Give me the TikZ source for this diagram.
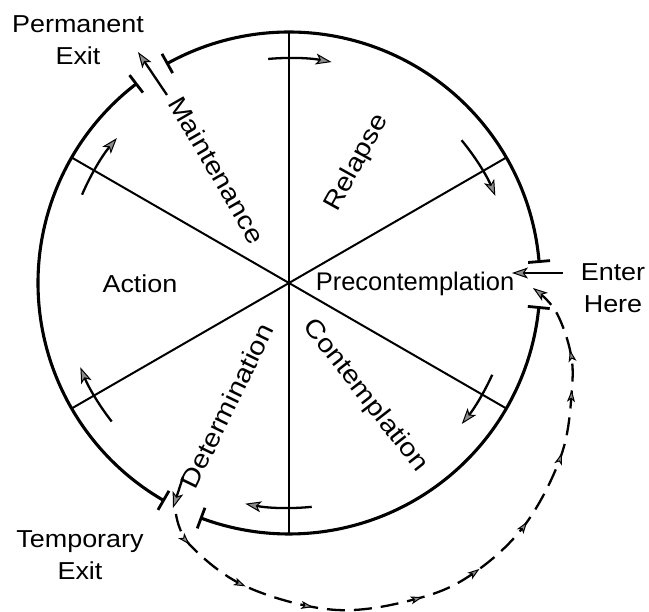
\documentclass[tikz,border=0pt]{standalone}
\usepackage{fontspec}
\setmainfont{Liberation Sans}
\newfontfamily\widelab[FakeStretch=1.1]{Liberation Sans}
\newfontfamily\rotlab[FakeStretch=1.13]{Liberation Sans}
\usetikzlibrary{arrows.meta,decorations.markings}
\tikzset{minitip/.tip={Stealth[length=12pt,width=8pt,inset=3pt,fill=black!45,line width=1pt]}}
\begin{document}
\begin{tikzpicture}[x=1pt,y=1pt,
  ring/.style={line width=3.1pt},
  spoke/.style={line width=2pt},
  tbar/.style={line width=2.8pt},
  cyc/.style={line width=2.3pt,-{Stealth[length=16pt,width=11pt,inset=4pt,fill=black!45,line width=1pt]}},
  lbl/.style={font=\widelab\fontsize{24.5}{32}\selectfont, inner sep=0pt, align=center},
  plbl/.style={font=\fontsize{25.5}{32}\selectfont, inner sep=0pt},
  rlbl/.style={font=\rotlab\fontsize{25.5}{32}\selectfont, inner sep=0pt},
  dashpath/.style={line width=2.3pt, dash pattern=on 18pt off 9pt,
    -{Stealth[length=15pt,width=10pt,inset=4pt,fill=black!45,line width=1pt]},
    postaction={decorate},
    decoration={markings,
      mark=at position 0.05 with {\arrow{minitip}},
      mark=at position 0.155 with {\arrow{minitip}},
      mark=at position 0.26 with {\arrow{minitip}},
      mark=at position 0.425 with {\arrow{minitip}},
      mark=at position 0.52 with {\arrow{minitip}},
      mark=at position 0.62 with {\arrow{minitip}},
      mark=at position 0.735 with {\arrow{minitip}},
      mark=at position 0.83 with {\arrow{minitip}},
      mark=at position 0.89 with {\arrow{minitip}}}}
]
\useasboundingbox (-289,-329) rectangle (360,283);
\coordinate (O) at (0,0);
% circle, three arcs with gaps
\draw[ring] (4.9:251) arc[start angle=4.9,end angle=119,radius=251];
\draw[ring] (127.5:251) arc[start angle=127.5,end angle=240,radius=251];
\draw[ring] (249.5:251) arc[start angle=249.5,end angle=354.4,radius=251];
% T-bars at the gaps
\foreach \a in {4.9,119,127.5,240,249.5,354.4}
  \draw[tbar] (\a:240) -- (\a:262);
% spokes
\foreach \a in {30,90,150,210,270,330}
  \draw[spoke] (O) -- (\a:251);
% cycle arrows (clockwise)
\draw[cyc] (95.3:225) arc[start angle=95.3,end angle=79.1,radius=225];
\draw[cyc] (39.6:224) arc[start angle=39.6,end angle=22.9,radius=224];
\draw[cyc] (-24.3:223) arc[start angle=-24.3,end angle=-39.2,radius=223];
\draw[cyc] (-84.2:225) arc[start angle=-84.2,end angle=-101.2,radius=225];
\draw[cyc] (218:225) arc[start angle=218,end angle=202,radius=225];
\draw[cyc] (156.9:225) arc[start angle=156.9,end angle=139.9,radius=225];
% stage labels
\node[rlbl, rotate=-60] (maint) at (-72,113) {Maintenance};
\node[rlbl, rotate=61] (relapse) at (68,120) {Relapse};
\node[plbl] (precon) at (126,-1) {Precontemplation};
\node[rlbl, rotate=-52] (contem) at (76,-113) {Contemplation};
\node[rlbl, rotate=64] (determ) at (-62,-123) {Determination};
\node[lbl] (action) at (-149,-1) {Action};
% outside labels
\node[lbl, anchor=north] (perm) at (-211,268) {Permanent\\Exit};
\node[lbl, anchor=north] (enter) at (324,20) {Enter\\Here};
\node[lbl, anchor=north] (temp) at (-209,-247) {Temporary\\Exit};
% exit / entry arrows
\coordinate (p1) at (-122,188); \coordinate (p2) at (-151,231);
\draw[cyc] (p1) -- (p2);
\coordinate (e1) at (274,10); \coordinate (e2) at (223,10);
\draw[cyc] (e1) -- (e2);
\coordinate (t1) at (-106,-194); \coordinate (t2) at (-116,-225);
\draw[cyc] (t1) -- (t2);
% recycling dashed path
\coordinate (d0) at (-113,-231);
\coordinate (d12) at (244,-5);
\draw[dashpath] plot[smooth, tension=0.6] coordinates {
  (d0) (-99,-262) (-42,-304) (48,-327) (134,-314) (189,-287)
  (238,-239) (273,-170) (283,-105) (281,-67) (266,-27) (d12)};
\end{tikzpicture}
\end{document}
